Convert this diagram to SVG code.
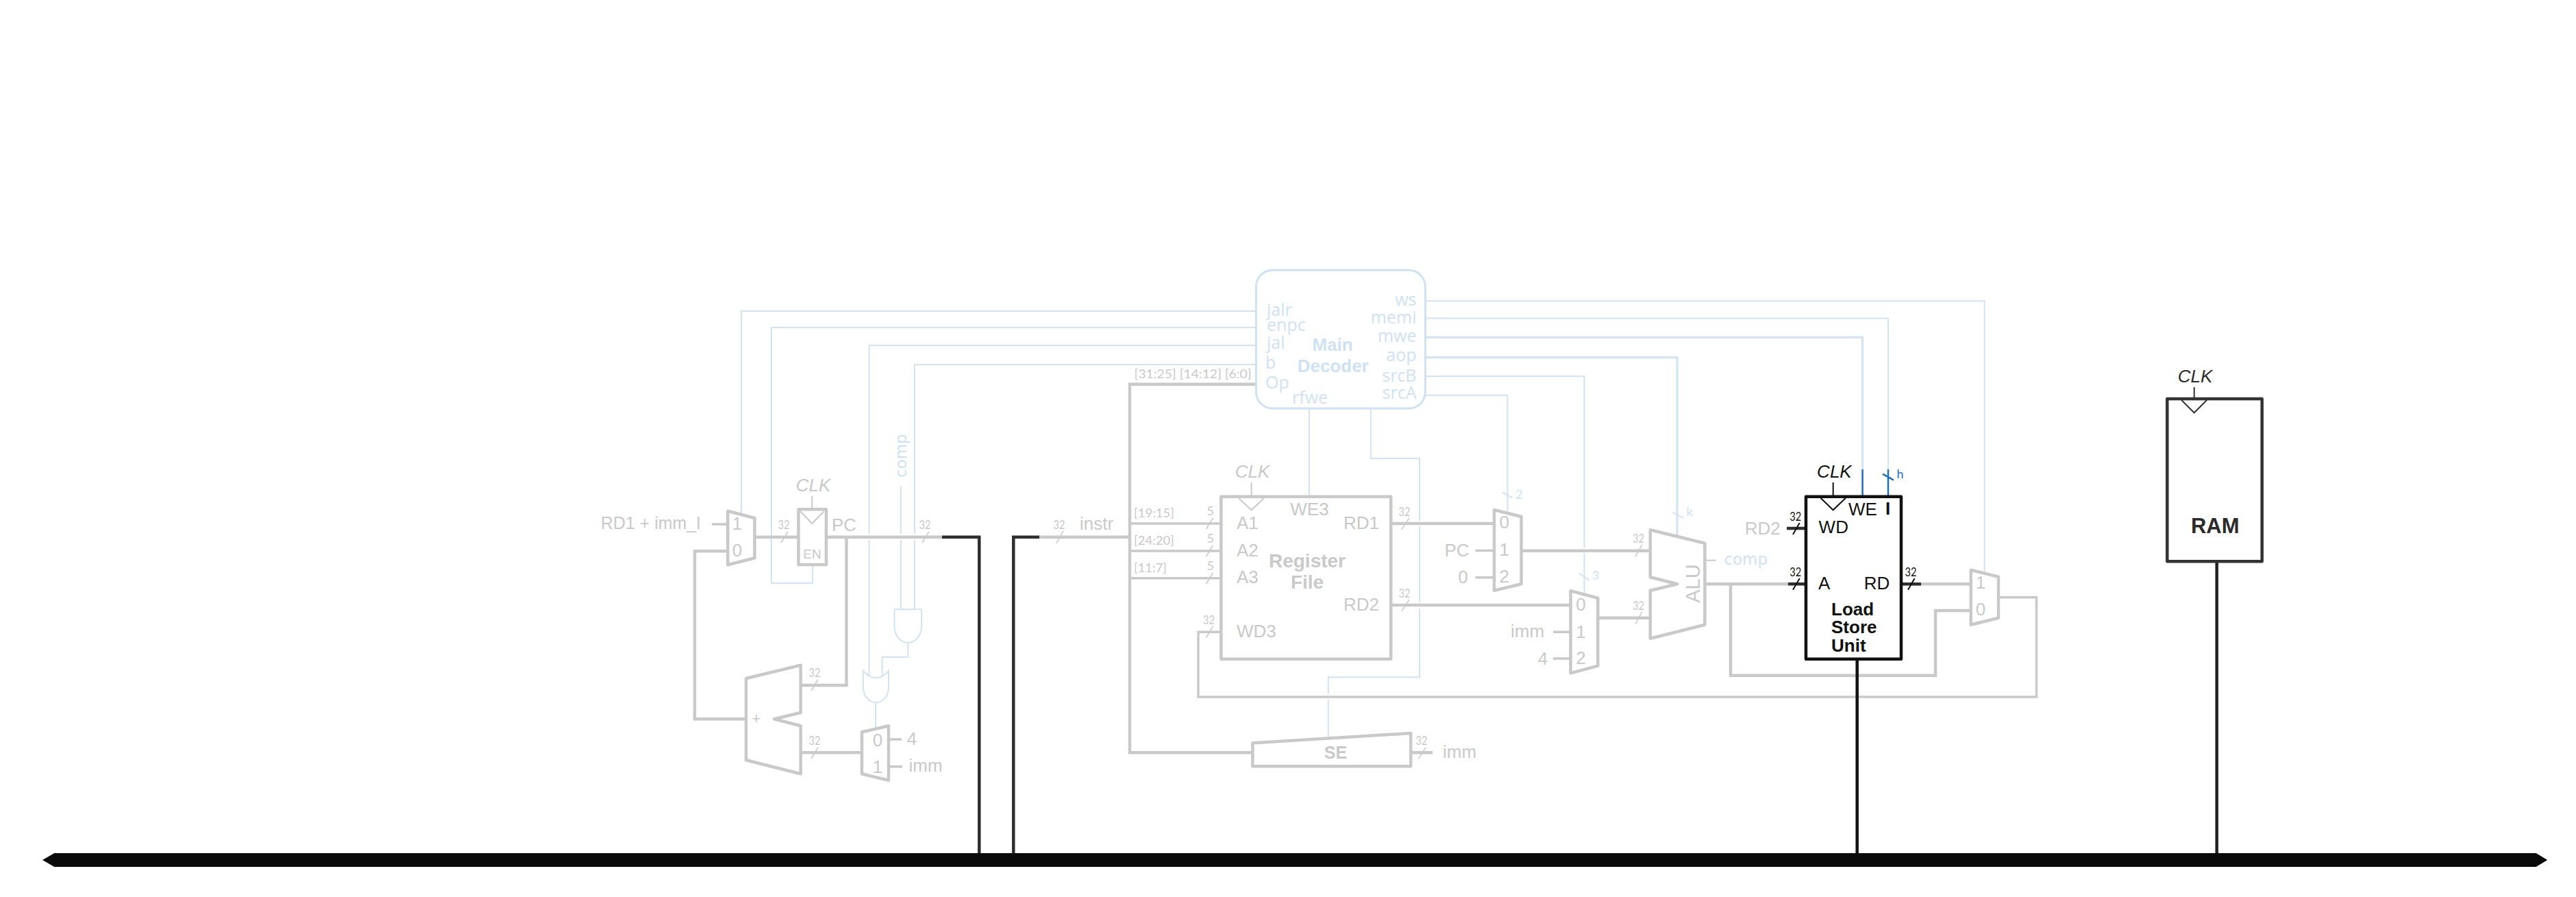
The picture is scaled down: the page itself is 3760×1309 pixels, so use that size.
<svg xmlns="http://www.w3.org/2000/svg" width="3760" height="1309" viewBox="0 0 3760 1309">
<style>
text{font-family:"Liberation Sans",Arial,sans-serif;font-size:26px;fill:#c9c9c9}
.i{font-style:italic}
.b{font-weight:bold}
.k{fill:#111}
.d{fill:#2b2b2b}
.bl{fill:#cfe2f3}
.dec{font-family:"Open Sans","Liberation Sans",sans-serif;font-size:25px;fill:#cfe2f3}
.m{font-family:Lato,"Liberation Sans",sans-serif;font-size:18px}
.n{text-anchor:middle}
.e{text-anchor:end}
.box{fill:#fff;stroke:#c9c9c9;stroke-width:4.5;stroke-linejoin:round}
.boxk{fill:#fff;stroke:#111;stroke-width:4.5;stroke-linejoin:round}
.boxd{fill:#fff;stroke:#333;stroke-width:4.5;stroke-linejoin:round}
.tri{fill:none;stroke:#c9c9c9;stroke-width:2}
.g{fill:none;stroke:#c9c9c9;stroke-width:4.5}
.g3{fill:none;stroke:#c9c9c9;stroke-width:3.5}
.s{fill:none;stroke:#c9c9c9;stroke-width:1.5}
.u{fill:none;stroke:#d2e3f3;stroke-width:2}
.u3{fill:none;stroke:#d2e3f3;stroke-width:3}
.w{fill:none;stroke:#1f6fbf;stroke-width:2.5}
.x{fill:none;stroke:#111;stroke-width:4.5}
.x2{fill:none;stroke:#111;stroke-width:2}
.x3{fill:none;stroke:#2e2e2e;stroke-width:4.5}
</style>

<g id="connectors">
  <!-- control wires -->
  <path class="u" d="M1082,751V454H1833"/>
  <path class="u" d="M1186,825V851H1126V478H1833"/>
  <path class="u" d="M1268.5,504H1833M1268.5,504V779M1268.5,788V986"/>
  <path class="u" d="M1335,532H1833M1335,532V779M1335,788V889"/>
  <path class="u" d="M1315,710V779M1315,788V889"/>
  <path class="u" d="M1325.3,938V959H1287.7V985"/>
  <path class="u" d="M1278.2,1026V1063"/>
  <path class="u" d="M1911,596V724"/>
  <path class="u" d="M2000.7,596V669H2072V760M2072,768V879M2072,888V988.3H1938.7V1013M1938.7,1021V1077"/>
  <path class="u" d="M2081,439.3H2896.6V835"/>
  <path class="u" d="M2081,464.5H2756V685"/>
  <path class="u3" d="M2081,492.3H2718.6V685"/>
  <path class="w" d="M2718.6,685V723M2756,685V723M2748,691.7L2764,700.7"/>
  <path class="u3" d="M2081,521.5H2448V783"/>
  <path class="u" d="M2081,549H2312.5V799M2312.5,807V866"/>
  <path class="u" d="M2081,576.7H2200.5V748"/>
  <path class="u" d="M2192.6,718.3L2208,726.7M2304.7,836.7L2320,846.7M2441.4,747.3L2456.8,756"/>

  <!-- data wires -->
  <path class="g3" d="M1039,765H1062"/>
  <path class="g" d="M1102,783.7H1166"/>
  <path class="g" d="M1206,783.7H1375"/>
  <path class="x3" d="M1375,783.7H1429.3V1245"/>
  <path class="g" d="M1235.5,783.7V1000H1169"/>
  <path class="g" d="M1061.5,804.3H1014V1049.3H1089"/>
  <path class="g" d="M1169,1098.3H1258"/>
  <path class="g3" d="M1297,1079H1316M1297,1118.7H1317"/>
  <path class="x3" d="M1479.3,1245V783.7H1517"/>
  <path class="g" d="M1517,783.7H1649"/>
  <path class="g" d="M1833,560.7H1649V1098.3H1828"/>
  <path class="g3" d="M1649,764H1782M1649,804H1782M1649,843.7H1782"/>
  <path class="g" d="M2030,764H2181"/>
  <path class="g" d="M2030,883H2292.5"/>
  <path class="g3" d="M1782,922.3H1749V1017H2972.5V871.7H2918"/>
  <path class="g" d="M2059,1098.3H2091"/>
  <path class="g3" d="M2153.6,803.5H2181M2153.6,842.7H2181"/>
  <path class="g" d="M2220.5,803.7H2408.5"/>
  <path class="g" d="M2332.3,901.7H2408.5"/>
  <path class="g3" d="M2267,922.3H2292.5M2267,961H2292.5"/>
  <path class="g3" style="stroke-width:2" d="M2488.4,817.7H2504.5"/>
  <path class="g" d="M2488.4,852.3H2610"/>
  <path class="g" d="M2526,852.3V985.7H2825V891H2876"/>
  <path class="x3" d="M2610,852.3H2636M2608,771H2636"/>
  <path class="x3" d="M2775,852.3H2804"/>
  <path class="g" d="M2804,852.3H2877"/>
  <path class="x" d="M2710.7,962V1245"/>
  <path class="x" style="stroke:#222" d="M3235.7,820V1245"/>

  <!-- width slashes -->
  <path class="s" d="M1140,792L1150,776M1346,792L1356,776M1184,1008L1194,991.7M1184,1107L1194,1090.7M1542,792.7L1552,775M1760.5,772L1770.4,756M1760.5,812L1770.4,796M1760.5,852L1770.4,836M1760.5,930.7L1770.4,914M2046,772.7L2057,756M2046,891.7L2057,875M2070.4,1107.3L2081,1090.7M2387,812.3L2396.6,795M2387,910.7L2396.6,893"/>
  <path class="x2" d="M2617,860.7L2626.8,844M2617,780L2626.8,763M2785,860.7L2794.6,844"/>

  <!-- width labels -->
  <text class="m n" x="1144" y="772" textLength="17" lengthAdjust="spacingAndGlyphs">32</text>
  <text class="m n" x="1350" y="772" textLength="17" lengthAdjust="spacingAndGlyphs">32</text>
  <text class="m n" x="1189" y="988" textLength="17" lengthAdjust="spacingAndGlyphs">32</text>
  <text class="m n" x="1189" y="1087" textLength="17" lengthAdjust="spacingAndGlyphs">32</text>
  <text class="m n" x="1546" y="772" textLength="17" lengthAdjust="spacingAndGlyphs">32</text>
  <text class="m n" x="1766.8" y="752.3">5</text>
  <text class="m n" x="1766.8" y="792">5</text>
  <text class="m n" x="1766.8" y="832">5</text>
  <text class="m n" x="1764.5" y="911.3" textLength="17" lengthAdjust="spacingAndGlyphs">32</text>
  <text class="m n" x="2050" y="753" textLength="17" lengthAdjust="spacingAndGlyphs">32</text>
  <text class="m n" x="2050" y="872.3" textLength="17" lengthAdjust="spacingAndGlyphs">32</text>
  <text class="m n" x="2075" y="1086.7" textLength="17" lengthAdjust="spacingAndGlyphs">32</text>
  <text class="m n" x="2391.6" y="792.3" textLength="17" lengthAdjust="spacingAndGlyphs">32</text>
  <text class="m n" x="2391.6" y="890" textLength="17" lengthAdjust="spacingAndGlyphs">32</text>
  <text class="m n k" x="2620.7" y="760" textLength="17" lengthAdjust="spacingAndGlyphs">32</text>
  <text class="m n k" x="2620.7" y="841" textLength="17" lengthAdjust="spacingAndGlyphs">32</text>
  <text class="m n k" x="2789" y="841" textLength="17" lengthAdjust="spacingAndGlyphs">32</text>
  <text class="m" x="1655" y="755" textLength="59" lengthAdjust="spacingAndGlyphs">[19:15]</text>
  <text class="m" x="1655" y="795" textLength="59" lengthAdjust="spacingAndGlyphs">[24:20]</text>
  <text class="m" x="1655" y="835" textLength="48" lengthAdjust="spacingAndGlyphs">[11:7]</text>
  <text class="m" x="1655.6" y="551.7" textLength="171" lengthAdjust="spacingAndGlyphs">[31:25] [14:12] [6:0]</text>
  <text class="m bl" x="2212" y="727.7">2</text>
  <text class="m bl" x="2324" y="845.7">3</text>
  <text class="m bl" x="2461.4" y="753.3">k</text>
  <text class="m" style="fill:#1f6fbf" x="2768.6" y="698.3">h</text>

  <!-- signal names on wires -->
  <text x="877" y="772" textLength="146" lengthAdjust="spacingAndGlyphs">RD1 + imm_I</text>
  <text x="1214" y="775">PC</text>
  <text x="1323.7" y="1086.7">4</text>
  <text x="1326.5" y="1125.7">imm</text>
  <text x="1576" y="772.7">instr</text>
  <text x="2106" y="1105.7">imm</text>
  <text x="2108.4" y="811.7">PC</text>
  <text class="n" x="2135.6" y="850.7">0</text>
  <text x="2205" y="930">imm</text>
  <text x="2244.7" y="970">4</text>
  <text x="2546.8" y="780">RD2</text>
  <text style="font-family:'DejaVu Sans',sans-serif;font-size:23px;fill:#cfe2f3" x="2516.4" y="824.3">comp</text>
  <text style="font-family:'DejaVu Sans',sans-serif;font-size:23px;fill:#cfe2f3" transform="translate(1323,697) rotate(-90)">comp</text>
</g>

<g id="bus"><polygon points="62,1255 79.3,1245 3701.7,1245 3718.3,1255 3701.7,1265 79.3,1265" fill="#0a0a0a"/></g>

<g id="mux-pc">
  <polygon class="box" points="1062.3,745.7 1101.5,756 1101.5,814.3 1062.3,824.3"/>
  <text class="n" x="1076" y="773">1</text><text class="n" x="1076" y="812">0</text>
</g>
<g id="pc-reg">
  <rect class="box" x="1165.5" y="743.3" width="40.5" height="80.7"/>
  <path class="tri" d="M1168,746L1185.3,764L1202.7,746M1185.3,724V743"/>
  <text class="i n" x="1187" y="716.7">CLK</text>
  <text class="n" style="font-size:19px" x="1185.5" y="815">EN</text>
</g>
<g id="adder">
  <polygon class="box" points="1089,990 1168.7,970.7 1168.7,1040 1130,1049.3 1168.7,1059.3 1168.7,1129.3 1089,1109.3"/>
  <text class="n" x="1104" y="1056" style="font-size:22px">+</text>
</g>
<g id="mux-inc">
  <polygon class="box" points="1258,1068.3 1297,1059.3 1297,1138.7 1258,1129.3"/>
  <text class="n" x="1281" y="1089">0</text><text class="n" x="1281" y="1128">1</text>
</g>
<g id="and-gate"><path class="u" d="M1305.5,889.3H1345V914A19.75,24 0 0 1 1305.5,914Z"/></g>
<g id="or-gate"><path class="u" d="M1260,979.3Q1278.5,999 1297,979.3V1003A18.5,22 0 0 1 1260,1003Q1260,990 1260,979.3Z"/></g>

<g id="main-decoder">
  <rect x="1833.4" y="394.3" width="247" height="201.7" rx="24" fill="#fff" stroke="#cfe2f3" stroke-width="3"/>
  <text class="dec" x="1849" y="460.7">jalr</text>
  <text class="dec" x="1849" y="483.3">enpc</text>
  <text class="dec" x="1849" y="509.3">jal</text>
  <text class="dec" x="1847" y="538.3">b</text>
  <text class="dec" x="1847" y="567.3">Op</text>
  <text class="dec" x="1886" y="589.3">rfwe</text>
  <text class="dec e" x="2067.5" y="446">ws</text>
  <text class="dec e" x="2067.5" y="471.7">memi</text>
  <text class="dec e" x="2067.5" y="499">mwe</text>
  <text class="dec e" x="2067.5" y="527.3">aop</text>
  <text class="dec e" x="2067.5" y="556.7">srcB</text>
  <text class="dec e" x="2067.5" y="581.7">srcA</text>
  <text class="b n bl" x="1945" y="511.7">Main</text>
  <text class="b n bl" x="1945.7" y="543.3">Decoder</text>
</g>

<g id="register-file">
  <rect class="box" x="1782.4" y="724.7" width="247.8" height="237"/>
  <path class="tri" d="M1808.3,727.3L1826.6,744.3L1844.5,727.3M1826.6,704V723"/>
  <text class="i n" x="1828" y="697.3">CLK</text>
  <text x="1805" y="772.3">A1</text><text x="1805" y="812">A2</text><text x="1805" y="851">A3</text>
  <text x="1805" y="930">WD3</text><text x="1883.3" y="751.7">WE3</text>
  <text x="1961" y="772.3">RD1</text><text x="1961" y="891">RD2</text>
  <text class="b n" x="1908" y="828.3" style="font-size:28px">Register</text>
  <text class="b n" x="1908" y="859.3" style="font-size:28px">File</text>
</g>

<g id="sign-extend">
  <polygon class="box" points="1828.4,1084.3 2059.2,1070 2059.2,1118.3 1828.4,1118.3"/>
  <text class="b n" x="1949.4" y="1107.3" style="font-size:25px">SE</text>
</g>

<g id="mux-srca">
  <polygon class="box" points="2181,744 2220.5,754 2220.5,852.3 2181,861.7"/>
  <text class="n" x="2195.7" y="770.7">0</text><text class="n" x="2195.7" y="810.7">1</text><text class="n" x="2195.7" y="850">2</text>
</g>
<g id="mux-srcb">
  <polygon class="box" points="2292.5,862.3 2332.3,872.7 2332.3,971.7 2292.5,982.3"/>
  <text class="n" x="2307.4" y="890.7">0</text><text class="n" x="2307.4" y="930.7">1</text><text class="n" x="2307.4" y="969">2</text>
</g>
<g id="alu">
  <polygon class="box" points="2408.8,773.3 2488.4,792.7 2488.4,911.7 2408.8,931.7 2408.8,861.7 2448.3,852.3 2408.8,842.3"/>
  <text class="n" transform="translate(2481,851.6) rotate(-90)" style="font-size:29px">ALU</text>
</g>

<g id="load-store-unit">
  <rect class="boxk" x="2636" y="724.7" width="139" height="237"/>
  <path class="x2" d="M2657.5,726.7L2675.7,744.3L2694,726.7M2675.7,704V723"/>
  <text class="i n k" x="2677.4" y="697.3">CLK</text>
  <text class="k" x="2698" y="751.7">WE</text>
  <text class="k b n" x="2755.7" y="751">I</text>
  <text class="k" x="2654.6" y="778.3">WD</text>
  <text class="k" x="2654" y="860">A</text>
  <text class="k" x="2720.7" y="860">RD</text>
  <text class="k b" x="2673" y="897.7">Load</text>
  <text class="k b" x="2673" y="924.3">Store</text>
  <text class="k b" x="2673" y="950.7">Unit</text>
</g>

<g id="mux-wb">
  <polygon class="box" points="2876.8,831.7 2917,841.7 2917,901.7 2876.8,911.7"/>
  <text class="n" x="2891" y="859">1</text><text class="n" x="2891" y="898.3">0</text>
</g>

<g id="ram">
  <rect class="boxd" x="3163.3" y="582" width="138.4" height="237.3"/>
  <path fill="none" stroke="#333" stroke-width="2" d="M3184.3,584L3202.7,602.3L3221,584M3202.7,565V582"/>
  <text class="i n d" x="3204" y="558.3">CLK</text>
  <text class="b n d" x="3233.3" y="777.7" style="font-size:31px">RAM</text>
</g>
</svg>
